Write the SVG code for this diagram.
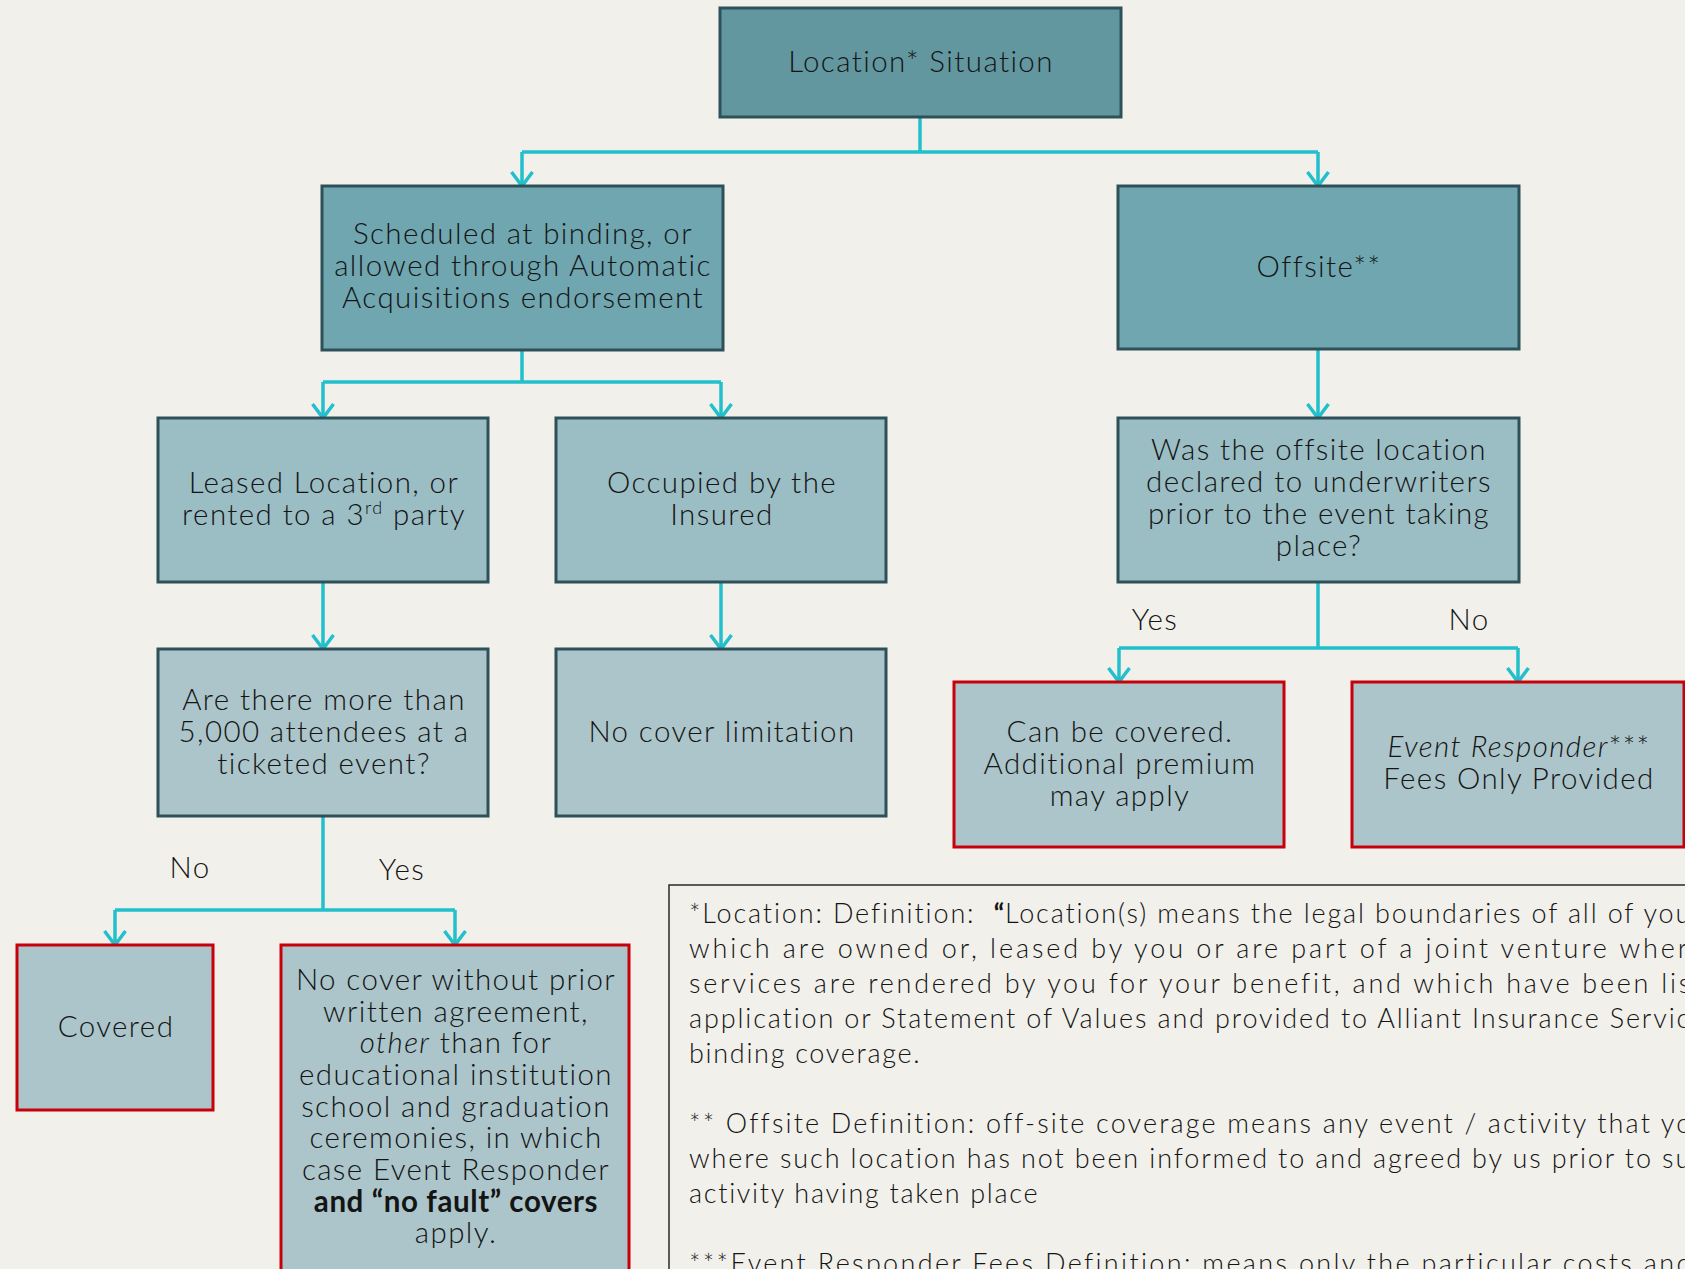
<svg xmlns="http://www.w3.org/2000/svg" width="1685" height="1269" viewBox="0 0 1685 1269">
<defs>
<style>
.bg{fill:#f1f0eb}
.n{stroke:#2e5058;stroke-width:3}
.red{stroke:#c8000a;stroke-width:3}
.c0{fill:#6397a0}
.c1{fill:#6fa6b0}
.c2{fill:#9bbdc4}
.c3{fill:#abc5ca}
text{font-family:Lato,"Open Sans","Liberation Sans",sans-serif;font-weight:300;fill:#141414}
.t{font-size:29.5px;text-anchor:middle;letter-spacing:1.4px}
.f{font-size:27px;letter-spacing:1.7px}
.b{font-weight:700;letter-spacing:0.6px}
.i{font-style:italic}
.con{fill:none;stroke:#22bfcc;stroke-width:3.5}
</style>
<marker id="ah" viewBox="0 0 24 24" refX="17" refY="12" markerWidth="24" markerHeight="24" markerUnits="userSpaceOnUse" orient="auto">
<path d="M3,1.5 L17,12 L3,22.5" fill="none" stroke="#22bfcc" stroke-width="3.5"/>
</marker>
</defs>
<rect class="bg" x="0" y="0" width="1685" height="1269"/>

<g id="connectors">
<path class="con" d="M920,117 V152 M522,152 H1318"/>
<path class="con" d="M522,152 V186" marker-end="url(#ah)"/>
<path class="con" d="M1318,152 V186" marker-end="url(#ah)"/>
<path class="con" d="M522,350 V382 M323,382 H721"/>
<path class="con" d="M323,382 V418" marker-end="url(#ah)"/>
<path class="con" d="M721,382 V418" marker-end="url(#ah)"/>
<path class="con" d="M1318,349 V418" marker-end="url(#ah)"/>
<path class="con" d="M323,582 V649" marker-end="url(#ah)"/>
<path class="con" d="M721,582 V649" marker-end="url(#ah)"/>
<path class="con" d="M1318,582 V648 M1119,648 H1518"/>
<path class="con" d="M1119,648 V682" marker-end="url(#ah)"/>
<path class="con" d="M1518,648 V682" marker-end="url(#ah)"/>
<path class="con" d="M323,816 V910 M115,910 H455"/>
<path class="con" d="M115,910 V945" marker-end="url(#ah)"/>
<path class="con" d="M455,910 V945" marker-end="url(#ah)"/>
<text class="t" x="1155" y="630">Yes</text>
<text class="t" x="1469" y="630">No</text>
<text class="t" x="190" y="878">No</text>
<text class="t" x="402" y="880">Yes</text>
</g>

<g id="n-location">
<rect class="n c0" x="720" y="8" width="401" height="109"/>
<text class="t" x="921" y="72">Location* Situation</text>
</g>

<g id="n-scheduled">
<rect class="n c1" x="322" y="186" width="401" height="164"/>
<text class="t" x="523" y="244">Scheduled at binding, or</text>
<text class="t" x="523" y="276">allowed through Automatic</text>
<text class="t" x="523" y="308">Acquisitions endorsement</text>
</g>

<g id="n-offsite">
<rect class="n c1" x="1118" y="186" width="401" height="163"/>
<text class="t" x="1319" y="277">Offsite**</text>
</g>

<g id="n-leased">
<rect class="n c2" x="158" y="418" width="330" height="164"/>
<text class="t" x="324" y="493">Leased Location, or</text>
<text class="t" x="324" y="525">rented to a 3<tspan font-size="18" dy="-11">rd</tspan><tspan dy="11"> party</tspan></text>
</g>

<g id="n-occupied">
<rect class="n c2" x="556" y="418" width="330" height="164"/>
<text class="t" x="722" y="493">Occupied by the</text>
<text class="t" x="722" y="525">Insured</text>
</g>

<g id="n-declared">
<rect class="n c2" x="1118" y="418" width="401" height="164"/>
<text class="t" x="1319" y="460">Was the offsite location</text>
<text class="t" x="1319" y="492">declared to underwriters</text>
<text class="t" x="1319" y="524">prior to the event taking</text>
<text class="t" x="1319" y="556">place?</text>
</g>

<g id="n-attendees">
<rect class="n c3" x="158" y="649" width="330" height="167"/>
<text class="t" x="324" y="710">Are there more than</text>
<text class="t" x="324" y="742">5,000 attendees at a</text>
<text class="t" x="324" y="774">ticketed event?</text>
</g>

<g id="n-nolimit">
<rect class="n c3" x="556" y="649" width="330" height="167"/>
<text class="t" x="722" y="742">No cover limitation</text>
</g>

<g id="n-canbecovered">
<rect class="red c3" x="954" y="682" width="330" height="165"/>
<text class="t" x="1120" y="742">Can be covered.</text>
<text class="t" x="1120" y="774">Additional premium</text>
<text class="t" x="1120" y="806">may apply</text>
</g>

<g id="n-responder">
<rect class="red c3" x="1352" y="682" width="332" height="165"/>
<text class="t" x="1519" y="757"><tspan class="i">Event Responder</tspan>***</text>
<text class="t" x="1519" y="789">Fees Only Provided</text>
</g>

<g id="n-covered">
<rect class="red c3" x="17" y="945" width="196" height="165"/>
<text class="t" x="116" y="1037">Covered</text>
</g>

<g id="n-nocover">
<rect class="red c3" x="281" y="945" width="348" height="340"/>
<text class="t" x="456" y="990">No cover without prior</text>
<text class="t" x="456" y="1022">written agreement,</text>
<text class="t" x="456" y="1053"><tspan class="i">other</tspan> than for</text>
<text class="t" x="456" y="1085">educational institution</text>
<text class="t" x="456" y="1117">school and graduation</text>
<text class="t" x="456" y="1148">ceremonies, in which</text>
<text class="t" x="456" y="1180">case Event Responder</text>
<text class="t b" x="456" y="1212">and “no fault” covers</text>
<text class="t" x="456" y="1243">apply.</text>
</g>

<g id="n-notes">
<rect x="669" y="885" width="1100" height="420" fill="none" stroke="#2a2a2a" stroke-width="1.5"/>
<text class="f" x="689" y="923" textLength="1003" lengthAdjust="spacing">*Location: Definition:&#160; <tspan class="b">“</tspan>Location(s) means the legal boundaries of all of you</text>
<text class="f" x="689" y="958" textLength="1000" lengthAdjust="spacing">which are owned or, leased by you or are part of a joint venture wher</text>
<text class="f" x="689" y="993" textLength="1003" lengthAdjust="spacing">services are rendered by you for your benefit, and which have been lis</text>
<text class="f" x="689" y="1028" textLength="1002" lengthAdjust="spacing">application or Statement of Values and provided to Alliant Insurance Servic</text>
<text class="f" x="689" y="1063">binding coverage.</text>
<text class="f" x="689" y="1133" textLength="1004" lengthAdjust="spacing">** Offsite Definition: off-site coverage means any event / activity that yo</text>
<text class="f" x="689" y="1168" textLength="1003" lengthAdjust="spacing">where such location has not been informed to and agreed by us prior to su</text>
<text class="f" x="689" y="1203">activity having taken place</text>
<text class="f" x="689" y="1273" textLength="1004" lengthAdjust="spacing">***Event Responder Fees Definition: means only the particular costs and</text>
</g>
</svg>
